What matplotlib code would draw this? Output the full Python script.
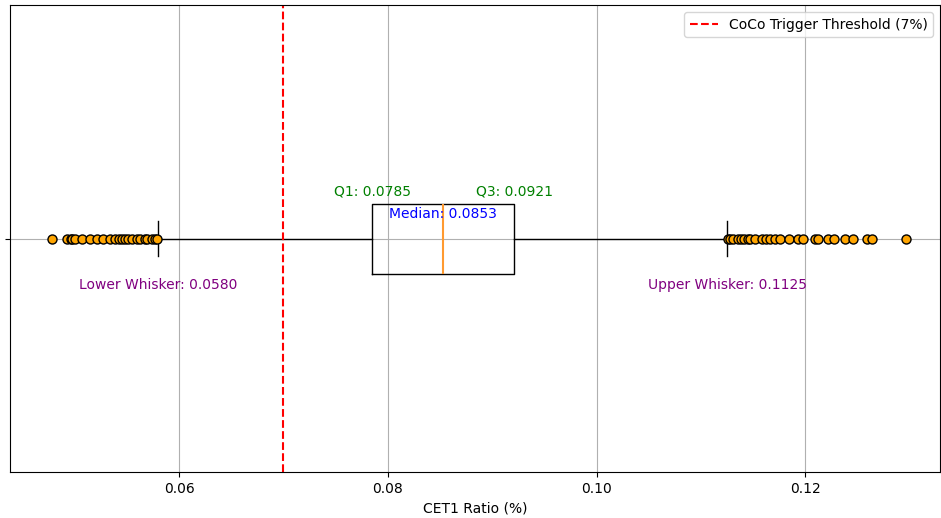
import matplotlib.pyplot as plt

# box stats
q1 = 0.0785
med = 0.0853
q3 = 0.0921
whislo = 0.0580
whishi = 0.1125
threshold = 0.07

low_fliers = [0.0478, 0.0493, 0.0496, 0.0497, 0.0500, 0.0507, 0.0515, 0.0521, 0.0527,
              0.0534, 0.0539, 0.0542, 0.0545, 0.0548, 0.0551, 0.0555, 0.0560, 0.0563,
              0.0567, 0.0569, 0.0574, 0.0577, 0.0579]
high_fliers = [0.1126, 0.1128, 0.1131, 0.1135, 0.1138, 0.1141, 0.1145, 0.1147, 0.1152,
               0.1158, 0.1162, 0.1166, 0.1171, 0.1176, 0.1184, 0.1193, 0.1198, 0.1209,
               0.1212, 0.1222, 0.1227, 0.1238, 0.1246, 0.1259, 0.1264, 0.1296]

stats = [{'med': med, 'q1': q1, 'q3': q3, 'whislo': whislo, 'whishi': whishi,
          'fliers': low_fliers + high_fliers}]

fig = plt.figure(figsize=(9.41, 5.18), dpi=100)
ax = fig.add_axes([0.0106, 0.089, 0.9884, 0.901])

ax.bxp(stats, vert=False, widths=0.15,
       flierprops=dict(marker='o', markerfacecolor='orange', markeredgecolor='black', markersize=6.5),
       medianprops=dict(color='#ff9a30', linewidth=1.5))
ax.axvline(threshold, color='red', linestyle='--', linewidth=1.5, label='CoCo Trigger Threshold (7%)')

ax.text(q1, 1.1, f'Q1: {q1:.4f}', color='green', ha='center', va='center', fontsize=10)
ax.text(q3, 1.1, f'Q3: {q3:.4f}', color='green', ha='center', va='center', fontsize=10)
ax.text(med, 1.053, f'Median: {med:.4f}', color='blue', ha='center', va='center', fontsize=10)
ax.text(whislo, 0.9, f'Lower Whisker: {whislo:.4f}', color='purple', ha='center', va='center', fontsize=10)
ax.text(whishi, 0.9, f'Upper Whisker: {whishi:.4f}', color='purple', ha='center', va='center', fontsize=10)

ax.set_xlim(0.0438, 0.1329)
ax.set_ylim(0.5, 1.5)
ax.set_yticks([1])
ax.set_yticklabels([''])
ax.set_xticks([0.06, 0.08, 0.10, 0.12])
ax.set_xticklabels(['0.06', '0.08', '0.10', '0.12'])
ax.set_xlabel('CET1 Ratio (%)')
ax.grid(True)
ax.legend(loc='upper right')

fig.savefig('out.png', dpi=100)
